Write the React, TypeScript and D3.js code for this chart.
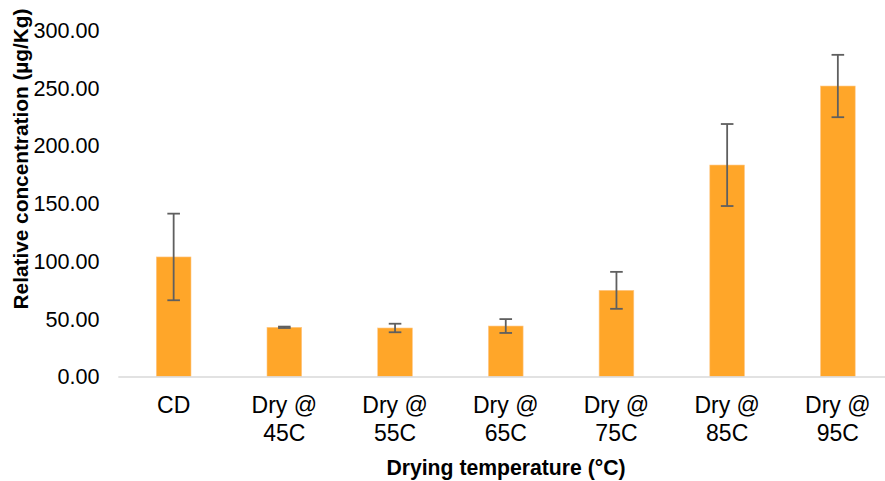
import React from "react";
import * as d3 from "d3";

const categories: string[][] = [["CD"], ["Dry @", "45C"], ["Dry @", "55C"], ["Dry @", "65C"], ["Dry @", "75C"], ["Dry @", "85C"], ["Dry @", "95C"]];
const values: number[] = [103.5, 42.6, 42.0, 43.7, 74.6, 183.1, 251.5];
const errors: number[] = [37.5, 0.6, 3.7, 6.0, 16.0, 35.5, 27.0];
const yTicks: number[] = [0, 50, 100, 150, 200, 250, 300];

const W = 885;
const H = 481;
const FONT = "'Liberation Sans', Arial, sans-serif";

export default function App() {
  const keys = categories.map((c, i) => String(i));
  const x = d3.scaleBand<string>().domain(keys).range([118.3, 893.2]).paddingInner(0.6865).paddingOuter(0.6865 / 2);
  const y = d3.scaleLinear().domain([0, 300]).range([376.5, 30]);
  const bw = x.bandwidth();
  const cap = 6.3;
  return (
    <svg width={W} height={H} style={{ position: "absolute", left: 0, top: 0, background: "#fff" }} fontFamily={FONT}>
      {yTicks.map((t) => (
        <text key={t} x={99.5} y={y(t)} dy="0.36em" textAnchor="end" fontSize={21.6} fill="#000">
          {t.toFixed(2)}
        </text>
      ))}
      {values.map((v, i) => (
        <rect key={i} x={x(String(i))!} y={y(v)} width={bw} height={y(0) - y(v)} fill="#FFA629" stroke="#FFC98A" strokeWidth={0.6} />
      ))}
      <line x1={118.3} x2={893.2} y1={y(0) + 0.5} y2={y(0) + 0.5} stroke="#D9D9D9" strokeWidth={1.5} />
      {values.map((v, i) => {
        const cx = x(String(i))! + bw / 2;
        const top = y(v + errors[i]);
        const bot = y(v - errors[i]);
        return (
          <g key={i} stroke="#5F5F5F" strokeWidth={1.8}>
            <line x1={cx} x2={cx} y1={top} y2={bot} />
            <line x1={cx - cap} x2={cx + cap} y1={top} y2={top} />
            <line x1={cx - cap} x2={cx + cap} y1={bot} y2={bot} />
          </g>
        );
      })}
      {categories.map((lines, i) => {
        const cx = x(String(i))! + bw / 2;
        return (
          <text key={i} x={cx} y={405} textAnchor="middle" fontSize={23} fill="#000">
            {lines.map((l, j) => (
              <tspan key={j} x={cx} dy={j === 0 ? "0.36em" : 27.7}>
                {l}
              </tspan>
            ))}
          </text>
        );
      })}
      <text x={506} y={467} dy="0.36em" textAnchor="middle" fontSize={21.2} fontWeight="bold" fill="#000">
        Drying temperature (°C)
      </text>
      <text transform={`translate(20,${159}) rotate(-90)`} dy="0.36em" textAnchor="middle" fontSize={20.8} fontWeight="bold" fill="#000">
        Relative concentration (µg/Kg)
      </text>
    </svg>
  );
}
